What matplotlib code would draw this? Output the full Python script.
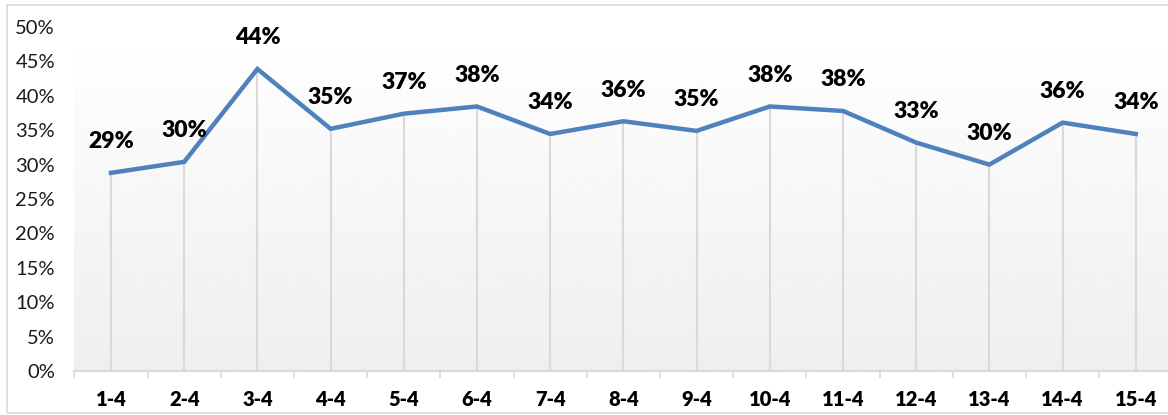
import numpy as np
import matplotlib
matplotlib.use("Agg")
import matplotlib.pyplot as plt
from matplotlib.patches import Rectangle

categories = ["1-4", "2-4", "3-4", "4-4", "5-4", "6-4", "7-4", "8-4",
              "9-4", "10-4", "11-4", "12-4", "13-4", "14-4", "15-4"]
values = [28.8, 30.4, 43.9, 35.2, 37.4, 38.45, 34.45, 36.3,
          34.9, 38.45, 37.8, 33.2, 30.0, 36.1, 34.45]
y_ticks = [0, 5, 10, 15, 20, 25, 30, 35, 40, 45, 50]

plt.rcParams["font.family"] = ["Lato", "DejaVu Sans"]

W, H = 1168, 415
fig = plt.figure(figsize=(W / 100, H / 100), dpi=100)
fig.patch.set_facecolor("white")

# thin grey border round the chart
fig.add_artist(Rectangle((7 / W, 2 / H), 1.0, (H - 7) / H,
                         transform=fig.transFigure, fill=False,
                         edgecolor="#d9d9d9", linewidth=1.2))

left, right = 74.4 / W, 1172.4 / W
bottom, top = (H - 371) / H, (H - 27) / H
ax = fig.add_axes([left, bottom, right - left, top - bottom])

x = np.arange(len(categories))
ax.set_xlim(-0.5, len(categories) - 0.5)
ax.set_ylim(0, 50)

# plot-area gradient: light grey at bottom, white at top
grad = np.linspace(0.935, 1.0, 256).reshape(-1, 1)
ax.imshow(grad, cmap="gray", vmin=0, vmax=1, origin="lower", aspect="auto",
          extent=(-0.5, len(categories) - 0.5, 0, 50), zorder=0)

# drop lines
ax.vlines(x, 0, values, color="#d9d9d9", linewidth=1.5, zorder=1)

ax.plot(x, values, color="#4f81bd", linewidth=3.2, solid_joinstyle="miter",
        zorder=3)

for xi, v in zip(x, values):
    ax.annotate(f"{v:.0f}%", (xi, v), xytext=(0, 22.5), textcoords="offset points",
                ha="center", va="center", fontsize=16.5, fontweight="heavy",
                color="black", clip_on=False)

for s in ["top", "right", "left"]:
    ax.spines[s].set_visible(False)
ax.spines["bottom"].set_color("#d9d9d9")
ax.spines["bottom"].set_linewidth(1.5)

ax.set_yticks(y_ticks)
ax.set_yticklabels([f"{t}%" for t in y_ticks], fontsize=14.5, color="#1a1a1a")
ax.tick_params(axis="y", length=0, pad=14)

ax.set_xticks(x)
ax.set_xticklabels(categories, fontsize=14.5, fontweight="heavy", color="black")
ax.tick_params(axis="x", length=0, pad=14)
ax.set_xticks(np.arange(len(categories) + 1) - 0.5, minor=True)
ax.tick_params(axis="x", which="minor", length=5, width=1.2, color="#d9d9d9")

fig.savefig("out.png", dpi=100)
